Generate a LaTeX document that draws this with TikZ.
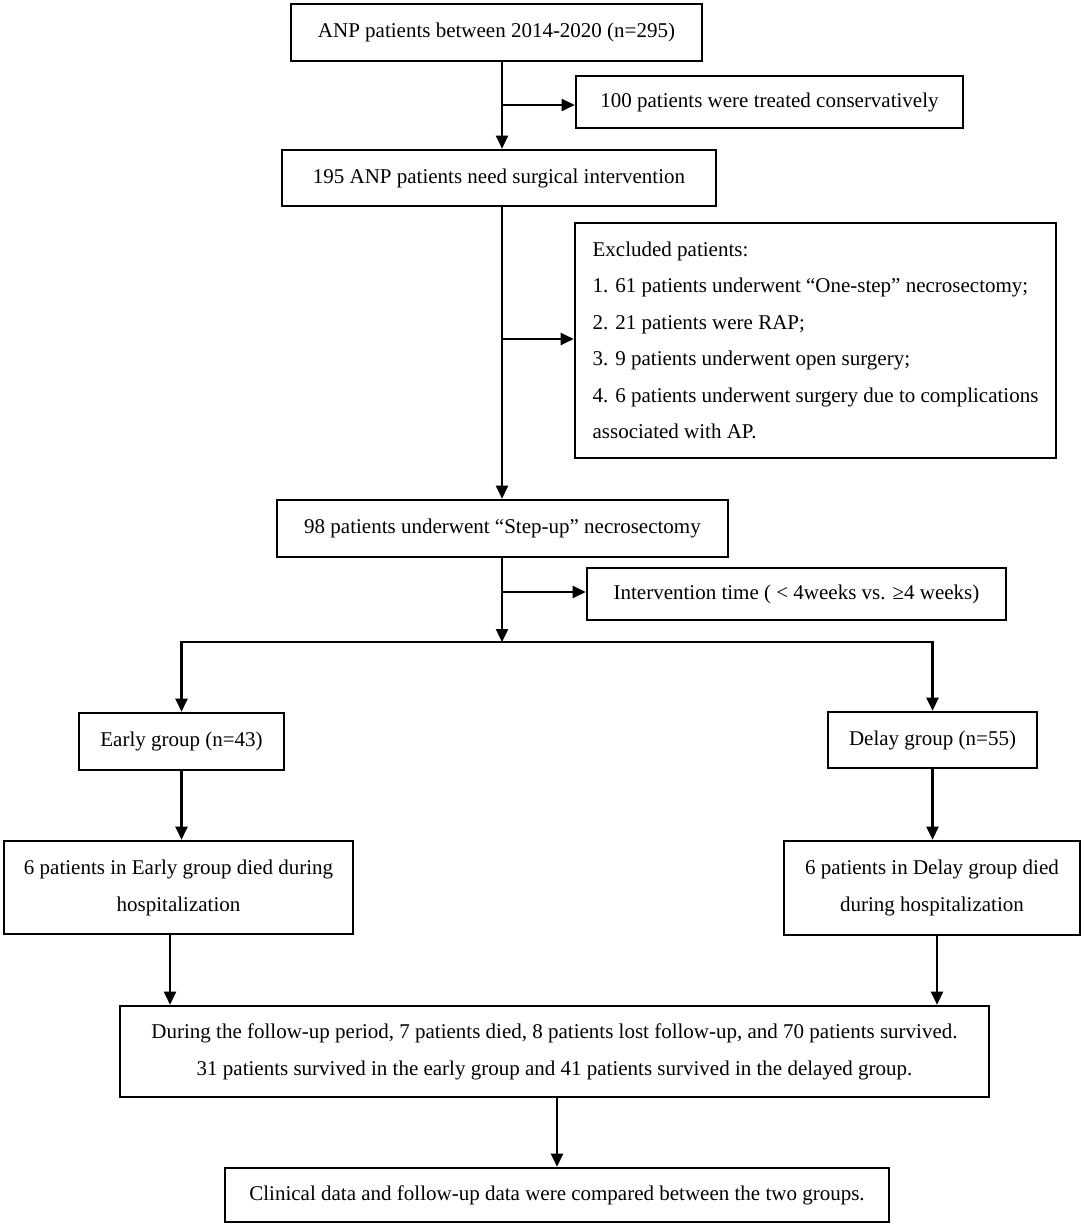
\documentclass[tikz,border=0pt]{standalone}
\usepackage{fontspec}
\setmainfont{Liberation Serif}
\usetikzlibrary{arrows.meta}
\begin{document}
\begin{tikzpicture}[x=1pt,y=-1pt,
  box/.style={draw, line width=2.6pt, inner sep=0pt, font=\fontsize{21}{37}\selectfont, align=center},
  arr/.style={line width=2.4pt, -{Triangle[length=13pt,width=12pt]}},
  ln/.style={line width=2.4pt}]
\useasboundingbox (0,0) rectangle (1084,1230);

\node[box, minimum width=411pt, minimum height=57pt] (n1) at (496.5,32.5) {ANP patients between 2014-2020 (n=295)};
\node[box, minimum width=387pt, minimum height=52pt] (b100) at (769.5,102) {100 patients were treated conservatively};
\node[box, minimum width=434pt, minimum height=56pt] (n2) at (499,178) {195 ANP patients need surgical intervention};
\node[box, minimum width=481pt, minimum height=235pt, align=left, font=\fontsize{21}{36.5}\selectfont] (excl) at (815.5,340.5) {Excluded patients:\\
1. 61 patients underwent “One-step” necrosectomy;\\
2. 21 patients were RAP;\\
3. 9 patients underwent open surgery;\\
4. 6 patients underwent surgery due to complications\\
associated with AP.};
\node[box, minimum width=451pt, minimum height=57pt] (step) at (502.5,528.5) {98 patients underwent “Step-up” necrosectomy};
\node[box, minimum width=419pt, minimum height=52pt] (interv) at (796.5,594) {Intervention time ( < 4weeks vs. ≥4 weeks)};
\node[box, minimum width=205pt, minimum height=57pt] (early) at (181.5,741.5) {Early group (n=43)};
\node[box, minimum width=209pt, minimum height=56pt] (delay) at (932.5,740) {Delay group (n=55)};
\node[box, minimum width=349pt, minimum height=93pt] (diedE) at (178.5,887.5) {6 patients in Early group died during\\hospitalization};
\node[box, minimum width=296pt, minimum height=94pt] (diedD) at (932,888) {6 patients in Delay group died\\during hospitalization};
\node[box, minimum width=869pt, minimum height=91pt] (fu) at (554.5,1051.5) {During the follow-up period, 7 patients died, 8 patients lost follow-up, and 70 patients survived.\\31 patients survived in the early group and 41 patients survived in the delayed group.};
\node[box, minimum width=664pt, minimum height=54pt] (final) at (557,1195) {Clinical data and follow-up data were compared between the two groups.};

\coordinate (t1) at (502,105);
\coordinate (t2) at (502,339);
\coordinate (t3) at (502,592);
\coordinate (sp) at (502,642);

\draw[arr] (n1.south -| t1) -- (n2.north -| t1);
\draw[arr] (t1) -- (t1 -| b100.west);
\draw[arr] (n2.south -| t2) -- (step.north -| t2);
\draw[arr] (t2) -- (t2 -| excl.west);
\draw[arr] (step.south -| t3) -- (sp);
\draw[arr] (t3) -- (t3 -| interv.west);
\draw[arr] (sp) -| (early.north);
\draw[arr] (sp) -| (delay.north);
\draw[arr] (early.south) -- (early.south |- diedE.north);
\draw[arr] (delay.south) -- (delay.south |- diedD.north);
\draw[arr] ([xshift=-8.5pt]diedE.south) -- ([xshift=-8.5pt]diedE.south |- fu.north);
\draw[arr] ([xshift=5pt]diedD.south) -- ([xshift=5pt]diedD.south |- fu.north);
\draw[arr] (fu.south -| final.north) -- (final.north);
\end{tikzpicture}
\end{document}
